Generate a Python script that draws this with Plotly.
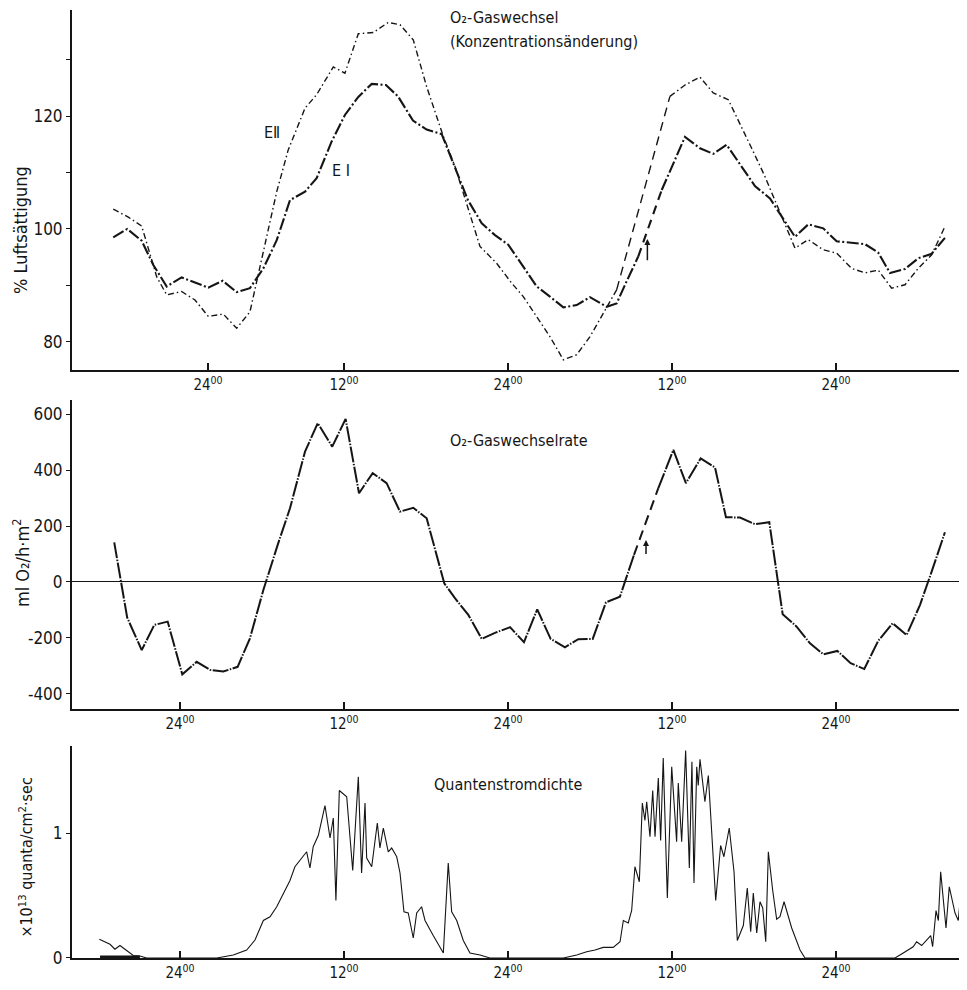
import plotly.graph_objects as go

# ---------------- data ----------------
# time in hours (24 = first midnight, 36 = noon, 48 = midnight, ...)
ei_t = [19.12, 20.14, 21.20, 22.05, 23.03, 24.12, 26.07, 27.12, 28.15, 29.12, 30.10, 31.08, 32.05,
        33.15, 34.00, 35.10, 36.07, 37.05, 38.03, 39.07, 39.95, 41.05, 42.05, 43.15, 45.07, 46.08,
        47.05, 48.02, 49.12, 50.10, 51.07, 52.05, 53.03, 54.00, 55.22, 55.95, 56.68, 57.53, None,
        59.25, 60.10, 60.95, 62.05, 63.02, 64.00, 64.98, 66.07, 67.17, 68.03, 69.00, 69.97, 71.07,
        72.05, 73.15, 74.12, 75.09, 75.95, 77.05, 78.02, 79.00, 79.97]
ei_v = [98.5, 100.0, 97.9, 93.6, 89.8, 91.4, 89.6, 90.8, 88.8, 89.5, 93.0, 98.0, 105.1,
        106.6, 109.0, 115.5, 120.2, 123.4, 125.7, 125.5, 123.5, 119.2, 117.6, 116.8, 105.1, 101.0,
        98.9, 97.2, 93.3, 89.8, 88.0, 86.1, 86.5, 87.9, 86.2, 86.8, 90.7, 95.1, None,
        106.9, 111.7, 116.3, 114.3, 113.3, 114.9, 111.4, 107.6, 105.4, 102.2, 98.6, 100.8, 100.1,
        97.8, 97.5, 97.3, 95.8, 92.2, 92.9, 94.8, 95.6, 98.4]
ei_gap_t = [57.53, 59.25]
ei_gap_v = [95.1, 106.9]

eii_t = [19.12, 20.22, 21.20, 22.30, 23.03, 24.12, 25.10, 26.07, 27.17, 28.15, 29.12, 31.08, 31.92,
         33.15, 34.00, 35.22, 36.07, 37.05, 38.14, 39.24, 40.10, 41.07, 42.05, 43.27, 44.12, 44.98,
         45.95, 47.17, 48.27, 49.12, 50.10, 51.07, 52.05, 53.03, 54.00, 55.22, 55.95, None,
         59.85, 60.95, 62.05, 63.02, 64.12, 64.98, 65.83, 66.80, 67.90, 69.00, 69.97, 71.07, 72.05,
         73.15, 74.12, 75.09, 76.07, 77.05, 78.02, 79.00, 79.97]
eii_v = [103.5, 102.1, 100.5, 91.5, 88.3, 88.9, 87.4, 84.5, 84.9, 82.4, 85.3, 106.6, 114.0,
         121.4, 123.8, 128.7, 127.6, 134.6, 134.8, 136.6, 136.2, 133.5, 125.2, 116.4, 111.1, 104.6,
         96.9, 93.9, 90.4, 88.0, 84.5, 80.9, 76.8, 77.7, 80.9, 86.2, 89.2, None,
         123.5, 125.5, 126.9, 124.1, 122.9, 118.7, 114.3, 109.3, 102.8, 96.6, 98.1, 96.3, 95.7,
         93.0, 92.2, 92.7, 89.5, 90.1, 93.0, 95.4, 100.4]
eii_gap_t = [55.95, 59.85]
eii_gap_v = [89.2, 123.5]

rate_t = [19.19, 20.14, 21.20, 22.12, 23.10, 24.17, 25.22, 26.20, 27.17, 28.22, 29.12, 30.10, 31.15,
          32.05, 33.15, 34.08, 35.14, 36.12, 37.10, 38.10, 39.12, 40.10, 41.07, 42.05, 43.34, 44.12,
          45.10, 46.08, 47.17, 48.15, 49.17, 50.14, 51.12, 52.17, 53.14, 54.20, 55.17, 56.19, 57.22,
          None, 59.00, 60.10, 61.02, 62.10, 63.15, 63.95, 64.98, 66.07, 67.12, 68.10, 69.12, 70.10,
          71.07, 72.10, 73.07, 74.07, 75.09, 76.15, 77.17, 78.15, 79.00, 79.97]
rate_v = [142, -128, -244, -154, -142, -331, -286, -315, -321, -304, -202, -29, 133,
          264, 467, 569, 485, 584, 318, 390, 354, 252, 266, 228, -5, -58,
          -118, -204, -180, -162, -216, -98, -204, -234, -205, -204, -73, -53, 97,
          None, 336, 473, 354, 443, 410, 232, 231, 207, 214, -116, -160, -220,
          -259, -247, -291, -312, -211, -148, -190, -82, 37, 178]
rate_gap_t = [57.22, 59.00]
rate_gap_v = [97, 336]

quanta_t = [18.10, 18.88, 19.24, 19.61, 20.10, 20.58, 21.07, 21.56, 26.69, 27.90, 28.88, 29.49, 30.10,
            30.59, 31.08, 31.56, 32.05, 32.41, 32.78, 33.27, 33.51, 33.75, 34.12, 34.61, 34.98, 35.22,
            35.41, 35.66, 36.20, 36.64, 37.05, 37.29, 37.54, 37.66, 38.03, 38.44, 38.63, 38.88, 39.24,
            39.49, 39.86, 40.10, 40.39, 40.70, 41.07, 41.32, 41.68, 41.93, 42.53, 43.27, 43.63, 43.88,
            44.25, 44.73, 45.22, 45.95, 46.68, 52.05, 53.03, 53.76, 54.37, 54.97, 55.70, 56.20, 56.44,
            56.80, 57.05, 57.29, 57.61, 57.83, 58.02, 58.15, 58.39, 58.59, 58.76, 59.00, 59.17, 59.36,
            59.66, 59.98, 60.34, 60.46, 60.71, 61.00, 61.27, 61.46, 61.61, 61.81, 61.92, 62.05, 62.41,
            62.66, 62.90, 63.20, 63.56, 63.80, 64.19, 64.54, 64.78, 65.22, 65.51, 65.76, 65.95, 66.20,
            66.44, 66.64, 66.86, 67.05, 67.37, 67.66, 67.90, 68.20, 68.76, 69.37, 69.73, 76.32, 76.92,
            77.65, 77.90, 78.27, 78.93, 79.07, 79.32, 79.49, 79.66, 80.05, 80.29, 80.71, 80.95, 81.31,
            81.51]
quanta_v = [0.15, 0.11, 0.07, 0.10, 0.06, 0.02, 0.016, 0.0, 0.0, 0.024, 0.064, 0.144, 0.30,
            0.33, 0.41, 0.52, 0.62, 0.73, 0.78, 0.85, 0.72, 0.89, 0.98, 1.22, 0.96, 1.12,
            0.46, 1.34, 1.29, 0.70, 1.45, 0.68, 1.24, 0.80, 0.73, 1.08, 0.88, 1.04, 0.85,
            0.88, 0.81, 0.68, 0.37, 0.36, 0.16, 0.36, 0.41, 0.30, 0.18, 0.04, 0.76, 0.37,
            0.30, 0.14, 0.04, 0.024, 0.0, 0.0, 0.024, 0.05, 0.064, 0.085, 0.085, 0.13, 0.30,
            0.28, 0.38, 0.73, 0.61, 1.24, 1.10, 1.25, 0.97, 1.34, 0.97, 1.44, 0.94, 1.60,
            0.48, 1.53, 0.93, 1.40, 0.93, 1.66, 0.72, 1.57, 0.60, 1.53, 1.38, 1.59, 1.25,
            1.46, 1.02, 0.46, 0.90, 0.81, 1.04, 0.69, 0.14, 0.26, 0.56, 0.21, 0.52, 0.20,
            0.45, 0.40, 0.13, 0.85, 0.54, 0.31, 0.33, 0.45, 0.24, 0.064, 0.0, 0.0, 0.04,
            0.09, 0.13, 0.10, 0.18, 0.09, 0.38, 0.30, 0.69, 0.24, 0.57, 0.36, 0.30, 0.73,
            0.30]
night_bar_t = [18.15, 21.07]

x_tickvals_top = [26.05, 36, 48, 60, 72]
x_tickvals = [24, 36, 48, 60, 72]
x_ticktext = ["24<sup>00</sup>", "12<sup>00</sup>", "24<sup>00</sup>", "12<sup>00</sup>", "24<sup>00</sup>"]

y1_tickvals = [80, 90, 100, 110, 120, 130]
y1_ticktext = ["80", "", "100", "", "120", ""]
y2_tickvals = [-400, -200, 0, 200, 400, 600]
y2_ticktext = ["-400", "-200", "0", "200", "400", "600"]
y3_tickvals = [0, 1]
y3_ticktext = ["0", "1"]

arrow_top = dict(t=58.2, v0=94.2, v1=98.2)
arrow_mid = dict(t=58.1, v0=95, v1=150)

# ---------------- figure ----------------
INK = "#151515"
FONT = "Liberation Sans Narrow, DejaVu Sans Condensed, Roboto Condensed, Liberation Sans, Arial"
XR = [16.1, 81.44]

fig = go.Figure()

fig.add_trace(go.Scatter(x=eii_t, y=eii_v, mode="lines", xaxis="x", yaxis="y",
                         line=dict(color=INK, width=1.4, dash="6px,3px,1.5px,3px")))
fig.add_trace(go.Scatter(x=eii_gap_t, y=eii_gap_v, mode="lines", xaxis="x", yaxis="y",
                         line=dict(color=INK, width=1.4, dash="9px,6px")))
fig.add_trace(go.Scatter(x=ei_t, y=ei_v, mode="lines", xaxis="x", yaxis="y",
                         line=dict(color=INK, width=2.1, dash="12px,2.5px,2px,2.5px")))
fig.add_trace(go.Scatter(x=ei_gap_t, y=ei_gap_v, mode="lines", xaxis="x", yaxis="y",
                         line=dict(color=INK, width=2.1, dash="9px,6px")))

fig.add_trace(go.Scatter(x=rate_t, y=rate_v, mode="lines", xaxis="x2", yaxis="y2",
                         line=dict(color=INK, width=2.0, dash="16px,1.5px,1.5px,1.5px")))
fig.add_trace(go.Scatter(x=rate_gap_t, y=rate_gap_v, mode="lines", xaxis="x2", yaxis="y2",
                         line=dict(color=INK, width=2.0, dash="10px,6px")))

fig.add_trace(go.Scatter(x=quanta_t, y=quanta_v, mode="lines", xaxis="x3", yaxis="y3",
                         line=dict(color=INK, width=1.1)))
fig.add_trace(go.Scatter(x=night_bar_t, y=[0, 0], mode="lines", xaxis="x3", yaxis="y3",
                         line=dict(color=INK, width=5)))

def xax(domain_anchor, tickvals):
    return dict(range=XR, domain=[0, 1], anchor=domain_anchor, showline=True, linewidth=2,
                linecolor=INK, ticks="inside", ticklen=7, tickwidth=1.5, tickcolor=INK,
                tickvals=tickvals, ticktext=x_ticktext, showgrid=False, zeroline=False,
                tickfont=dict(size=15, color=INK, family=FONT))

def yax(domain, rng, tv, tt, anchor, zl=False):
    return dict(range=rng, domain=domain, anchor=anchor, showline=True, linewidth=2,
                linecolor=INK, ticks="outside", ticklen=4, tickwidth=1.2, tickcolor=INK,
                tickvals=tv, ticktext=tt, showgrid=False, zeroline=zl, zerolinecolor=INK,
                zerolinewidth=1.2, tickfont=dict(size=17, color=INK, family=FONT))

# the page body has an 8px margin, so the figure is 8px smaller and margins shifted
fig.update_layout(
    width=959, height=982,
    margin=dict(l=64, r=2, t=2, b=32),
    paper_bgcolor="white", plot_bgcolor="white", showlegend=False,
    font=dict(family=FONT, color=INK, size=16),
    xaxis=xax("y", x_tickvals_top),
    xaxis2=xax("y2", x_tickvals),
    xaxis3=xax("y3", x_tickvals),
    yaxis=yax([0.6203, 1.0], [75, 138.8], y1_tickvals, y1_ticktext, "x"),
    yaxis2=yax([0.2627, 0.5886], [-455, 652], y2_tickvals, y2_ticktext, "x2", zl=True),
    yaxis3=yax([0.0, 0.2236], [0, 1.696], y3_tickvals, y3_ticktext, "x3"),
)

ann = [
    dict(text="O₂-Gaswechsel", x=0.421, y=0.9916),
    dict(text="(Konzentrationsänderung)", x=0.421, y=0.967),
    dict(text="EⅡ", x=0.2128, y=0.8713),
    dict(text="E I", x=0.289, y=0.8312),
    dict(text="O₂-Gaswechselrate", x=0.421, y=0.5464),
    dict(text="Quantenstromdichte", x=0.403, y=0.1825),
]
for a in ann:
    fig.add_annotation(xref="paper", yref="paper", xanchor="left", yanchor="middle",
                       showarrow=False, font=dict(size=16, color=INK, family=FONT), **a)

titles = [
    dict(text="% Luftsättigung", x=-0.057, y=0.768, size=18),
    dict(text="ml O₂/h·m<sup>2</sup>", x=-0.057, y=0.4167, size=18),
    dict(text="×10<sup>13</sup> quanta/cm<sup>2</sup>·sec", x=-0.052, y=0.1065, size=16),
]
for a in titles:
    fig.add_annotation(xref="paper", yref="paper", xanchor="center", yanchor="middle",
                       textangle=-90, showarrow=False, text=a["text"], x=a["x"], y=a["y"],
                       font=dict(size=a["size"], color=INK, family=FONT))

fig.add_annotation(x=arrow_top["t"], y=arrow_top["v1"], ax=arrow_top["t"], ay=arrow_top["v0"],
                   xref="x", yref="y", axref="x", ayref="y", showarrow=True, arrowhead=2,
                   arrowsize=0.8, arrowwidth=1.5, arrowcolor=INK, text="")
fig.add_annotation(x=arrow_mid["t"], y=arrow_mid["v1"], ax=arrow_mid["t"], ay=arrow_mid["v0"],
                   xref="x2", yref="y2", axref="x2", ayref="y2", showarrow=True, arrowhead=2,
                   arrowsize=0.8, arrowwidth=1.5, arrowcolor=INK, text="")

fig.write_html("out.html")
